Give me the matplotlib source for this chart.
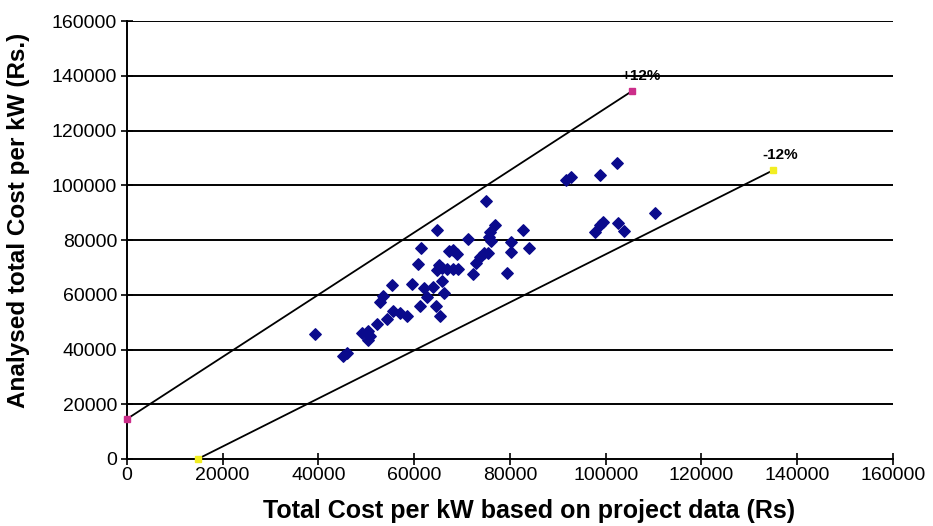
import matplotlib
matplotlib.use("Agg")
import matplotlib.pyplot as plt

plt.rcParams['font.family'] = ['Liberation Sans', 'DejaVu Sans']

# Scatter data: project cost (x) vs analysed cost (y), Rs per kW
project_cost = [39270, 45120, 45950, 49090, 50340, 50760, 50340, 52320, 54310, 52850,
                53410, 55500, 57020, 58590, 55290, 59470, 62040, 64020, 62600, 61310,
                64540, 65480, 66320, 65730, 60850, 61410, 64860, 65230, 65730, 64860,
                66950, 68160, 69200, 67320, 68160, 68870, 71230, 72210, 72930, 73770,
                74500, 75500, 75090, 76870, 75820, 75680, 76030, 80150, 80210, 79310,
                82650, 84030, 91700, 92680, 98800, 102290, 99490, 98800, 97750, 102500,
                103810, 110290]
analysed_cost = [45660, 37630, 38720, 46210, 46940, 44930, 43470, 49320, 51030, 57350,
                 59540, 54060, 53330, 52420, 63740, 64110, 62470, 63010, 59070, 55780,
                 55780, 52420, 60750, 65020, 71230, 76900, 83760, 70870, 69660, 69040,
                 69300, 69300, 69300, 76090, 76350, 74890, 80260, 67470, 71600, 73790,
                 75250, 75250, 94250, 85660, 82920, 81100, 79820, 79190, 75730, 68060,
                 83760, 77080, 101920, 103120, 103740, 108020, 86690, 85480, 83030, 86100,
                 83400, 89970]

# +12% and -12% bound lines (endpoints)
upper_x = [0, 105500]
upper_y = [14600, 134400]
lower_x = [14800, 135000]
lower_y = [0, 105500]
upper_label = "+12%"
lower_label = "-12%"

x_ticks = [0, 20000, 40000, 60000, 80000, 100000, 120000, 140000, 160000]
y_ticks = [0, 20000, 40000, 60000, 80000, 100000, 120000, 140000, 160000]

fig = plt.figure(figsize=(9.33, 5.26), dpi=100)
ax = fig.add_axes([0.136, 0.1274, 0.821, 0.8326])

for yv in y_ticks[1:]:
    ax.axhline(yv, color='black', lw=1.4, zorder=1)

ax.plot(upper_x, upper_y, color='black', lw=1.3, zorder=2)
ax.plot(lower_x, lower_y, color='black', lw=1.3, zorder=2)
ax.plot(upper_x, upper_y, ls='none', marker='s', ms=5, color='#CC2E8A', zorder=4, clip_on=False)
ax.plot(lower_x, lower_y, ls='none', marker='s', ms=5, color='#F2EE22', zorder=4, clip_on=False)

ax.scatter(project_cost, analysed_cost, marker='D', s=34, color='#0A0A8C', zorder=3)

ax.text(upper_x[1] + 1800, upper_y[1] + 2800, upper_label, fontsize=11, fontweight='bold', ha='center', va='bottom')
ax.text(lower_x[1] + 1500, lower_y[1] + 3000, lower_label, fontsize=11, fontweight='bold', ha='center', va='bottom')

ax.set_xlim(0, 160000)
ax.set_ylim(0, 160000)
ax.set_xticks(x_ticks)
ax.set_yticks(y_ticks)
ax.tick_params(axis='both', direction='inout', length=8, width=1.2, labelsize=14, colors='black')
ax.tick_params(axis='y', pad=3)
ax.tick_params(axis='x', pad=2)
for s in ['top', 'right']:
    ax.spines[s].set_visible(False)
for s in ['left', 'bottom']:
    ax.spines[s].set_linewidth(1.4)
    ax.spines[s].set_color('black')

ax.set_xlabel("Total Cost per kW based on project data (Rs)", fontsize=18, fontweight='bold')
ax.set_ylabel("Analysed total Cost per kW (Rs.)", fontsize=17.5, fontweight='bold')
ax.xaxis.set_label_coords(0.525, -0.092)
ax.yaxis.set_label_coords(-0.126, 0.545)

fig.savefig("out.png", dpi=100, facecolor='white')
